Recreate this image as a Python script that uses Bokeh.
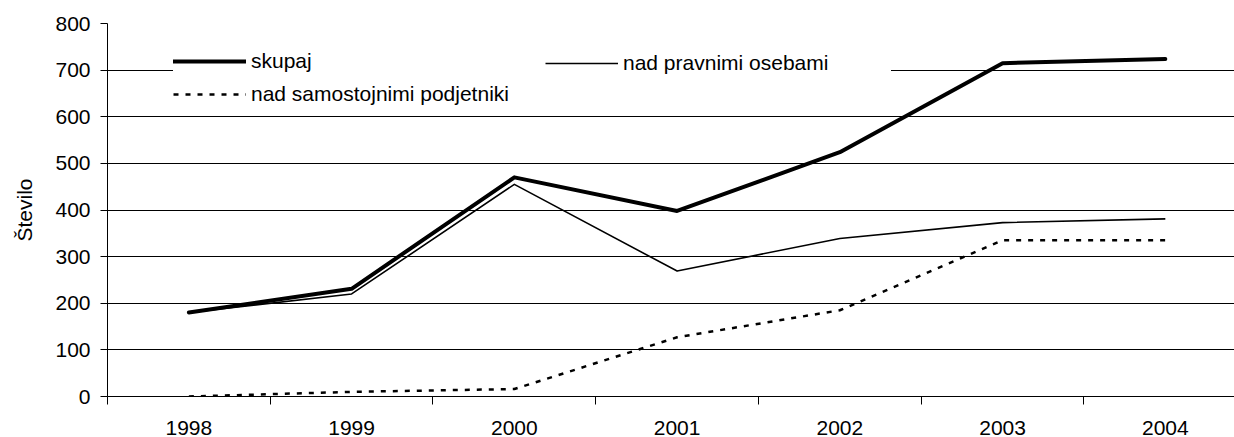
from bokeh.plotting import figure
from bokeh.models import Range1d, FixedTicker, Legend, LegendItem, Grid
from bokeh.embed import file_html
from bokeh.resources import INLINE

years = [1998, 1999, 2000, 2001, 2002, 2003, 2004]
skupaj = [180, 231, 470, 398, 524, 715, 724]
pravne = [180, 220, 455, 269, 339, 373, 381]
samostojni = [0, 10, 16, 127, 185, 335, 335]
y_ticks = [0, 100, 200, 300, 400, 500, 600, 700, 800]
series_labels = ["skupaj", "nad pravnimi osebami", "nad samostojnimi podjetniki"]
y_title = "Število"

FONT = "Liberation Sans"
FS = "21px"

x = list(range(len(years)))

p = figure(width=1234, height=437, output_backend="svg", toolbar_location=None,
           x_range=Range1d(-0.5, 6.425), y_range=Range1d(y_ticks[0], y_ticks[-1]),
           min_border_left=107, min_border_right=0, min_border_top=23, min_border_bottom=40)
p.outline_line_color = None
p.background_fill_color = "white"

# x axis: labels at category centres, tick marks between categories
xa = p.xaxis[0]
xa.ticker = FixedTicker(ticks=x, minor_ticks=[i - 0.5 for i in x])
xa.major_label_overrides = {i: str(yv) for i, yv in zip(x, years)}
xa.major_tick_out = 0
xa.major_tick_in = 0
xa.minor_tick_out = 8
xa.minor_tick_in = 0
xa.minor_tick_line_color = "black"
xa.axis_line_color = "black"
xa.major_label_text_font = FONT
xa.major_label_text_font_size = FS
xa.major_label_text_color = "black"
xa.major_label_standoff = 16
p.xgrid.visible = False

ya = p.yaxis[0]
ya.ticker = FixedTicker(ticks=y_ticks, minor_ticks=[])
ya.major_tick_out = 7
ya.major_tick_in = 0
ya.major_tick_line_color = "black"
ya.axis_line_color = "black"
ya.major_label_text_font = FONT
ya.major_label_text_font_size = FS
ya.major_label_text_color = "black"
ya.major_label_standoff = 10
ya.axis_label = y_title
ya.axis_label_text_font = FONT
ya.axis_label_text_font_size = FS
ya.axis_label_text_font_style = "normal"
ya.axis_label_text_color = "black"
ya.axis_label_standoff = 16

p.ygrid.ticker = FixedTicker(ticks=y_ticks[1:-1])
p.ygrid.grid_line_color = "black"
p.ygrid.grid_line_width = 1
top_grid = Grid(dimension=1, ticker=FixedTicker(ticks=[y_ticks[-1]]),
                grid_line_color="#8c8c8c", grid_line_width=1)
p.add_layout(top_grid)

r1 = p.line(x, skupaj, line_width=4, line_color="black", line_join="round", line_cap="round")
r2 = p.line(x, pravne, line_width=1.6, line_color="black", line_join="round")
r3 = p.line(x, samostojni, line_width=2.5, line_color="black", line_dash="5 7")

common = dict(border_line_color=None, background_fill_color="white", background_fill_alpha=1.0,
              label_text_font=FONT, label_text_font_size=FS, label_text_color="black",
              glyph_width=73, glyph_height=22, label_height=22, label_standoff=5,
              padding=6, spacing=9, orientation="vertical")

leg1 = Legend(items=[LegendItem(label=series_labels[0], renderers=[r1]),
                     LegendItem(label=series_labels[2], renderers=[r3])],
              location=(66, 290), label_width=300, **common)
leg2 = Legend(items=[LegendItem(label=series_labels[1], renderers=[r2])],
              location=(438, 321), label_width=268, **common)
p.add_layout(leg1)
p.add_layout(leg2)

open("out.html", "w").write(file_html(p, INLINE))
